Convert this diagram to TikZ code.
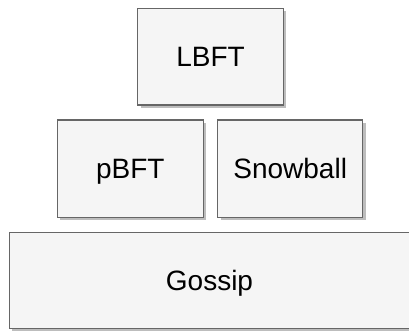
\documentclass[tikz,border=0pt]{standalone}
\usepackage{fontspec}
\setmainfont{Liberation Sans}
\usetikzlibrary{shadows}
\definecolor{boxfill}{HTML}{F5F5F5}
\definecolor{boxline}{HTML}{666666}
\definecolor{shadowgray}{HTML}{BDBDBD}
\tikzset{
  layerbox/.style={draw=boxline, fill=boxfill, line width=1.2pt,
    inner sep=0pt, outer sep=0pt, anchor=center,
    font=\fontsize{28}{32}\selectfont, text=black,
    text height=20pt, text depth=0pt,
    drop shadow={shadow xshift=3pt, shadow yshift=-3pt, fill=shadowgray, opacity=1}}
}
\begin{document}
\begin{tikzpicture}[x=1pt,y=1pt]
\useasboundingbox (0,0) rectangle (409,330);
\fill[white] (0,0) rectangle (409,330);
\node[layerbox, minimum width=145.6pt, minimum height=96.7pt] (lbft) at (210.5,273.3) {LBFT};
\node[layerbox, minimum width=146pt, minimum height=97.3pt] (pbft) at (130.3,161.3) {pBFT};
\node[layerbox, minimum width=145pt, minimum height=97.3pt] (snow) at (290.2,161.3) {Snowball};
\node[layerbox, minimum width=400.4pt, minimum height=95.8pt] (gossip) at (209.5,49.4) {Gossip};
\end{tikzpicture}
\end{document}
